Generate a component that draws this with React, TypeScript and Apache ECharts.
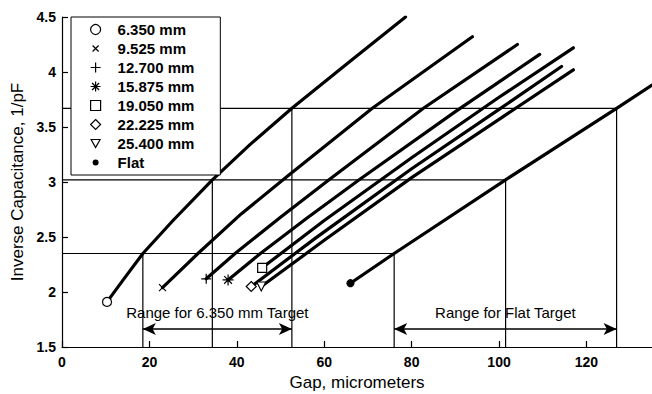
import React, { useEffect, useRef } from "react";
import * as echarts from "echarts";

const seriesNames = ["6.350 mm", "9.525 mm", "12.700 mm", "15.875 mm", "19.050 mm", "22.225 mm", "25.400 mm", "Flat"];

const gap635 = [10.3, 14, 18.5, 25.4, 34.4, 43, 52.6, 66, 78.6];
const inv635 = [1.91, 2.11, 2.35, 2.65, 3.02, 3.34, 3.67, 4.1, 4.5];
const gap953 = [23, 31.1, 41, 51.5, 71, 93.9];
const inv953 = [2.04, 2.35, 2.71, 3.05, 3.67, 4.32];
const gap1270 = [33, 39.6, 50, 61.4, 82.7, 104.2];
const inv1270 = [2.12, 2.35, 2.68, 3.03, 3.67, 4.25];
const gap1588 = [38, 45.4, 56, 68, 90, 109.3];
const inv1588 = [2.11, 2.35, 2.67, 3.02, 3.64, 4.16];
const gap1905 = [45.8, 60, 80, 100, 117];
const inv1905 = [2.22, 2.65, 3.22, 3.77, 4.22];
const gap2223 = [43.3, 58, 80, 100, 114.3];
const inv2223 = [2.05, 2.49, 3.12, 3.66, 4.05];
const gap2540 = [45.6, 60, 80, 100, 117];
const inv2540 = [2.05, 2.47, 3.04, 3.57, 4.02];
const gapFlat = [66, 76, 101.5, 126.9, 135];
const invFlat = [2.08, 2.35, 3.02, 3.67, 3.88];

// guide levels (inverse capacitance) and the gaps where each target hits them
const guideLevels = [2.35, 3.02, 3.67];
const flatRangeGaps = [76, 101.5, 126.9];
const target635Gaps = [18.5, 34.4, 52.6];
const arrowLevel = 1.664;
const rangeLabels = ["Range for 6.350 mm Target", "Range for Flat Target"];

const xTicks = { min: 0, max: 135, interval: 20 };
const yTicks = { min: 1.5, max: 4.5, interval: 0.5 };

const FONT = "Liberation Sans";

const symX = "path://M0,0L10,10M10,0L0,10";
const symPlus = "path://M5,0L5,10M0,5L10,5";
const symStar = "path://M5,0L5,10M0,5L10,5M1.5,1.5L8.5,8.5M8.5,1.5L1.5,8.5";
const symTri = "path://M0,0L10,0L5,9Z";

// legend icons padded with invisible corner points so they draw smaller
const legX = "path://M0,0L0,0M10,10L10,10M2,2L8,8M8,2L2,8";
const legDot = "path://M0,0L0,0M10,10L10,10M8,5A3,3,0,1,1,2,5A3,3,0,1,1,8,5Z";
const legTri = "path://M0,0L0,0M10,10L10,10M0.5,1L9.5,1L5,9Z";

const markers = ["circle", symX, symPlus, symStar, "rect", "diamond", symTri, "circle"];
const markerSizes = [9, 7, 10, 11, 9, 10, 9, 7];

const gaps = [gap635, gap953, gap1270, gap1588, gap1905, gap2223, gap2540, gapFlat];
const invs = [inv635, inv953, inv1270, inv1588, inv1905, inv2223, inv2540, invFlat];

export default function App() {
  const ref = useRef<HTMLDivElement>(null);
  useEffect(() => {
    if (!ref.current) return;
    document.body.style.margin = "0";
    document.documentElement.style.overflow = "hidden";
    const chart = echarts.init(ref.current, null, { renderer: "svg" });

    const curveSeries: any[] = seriesNames.map((name, si) => {
      const isFlat = name === "Flat";
      return {
        name,
        type: "line",
        symbol: markers[si],
        symbolSize: markerSizes[si],
        z: 5,
        lineStyle: { color: "#000", width: 3.2, cap: "round", join: "round" },
        itemStyle: {
          color: isFlat ? "#000" : "#fff",
          borderColor: "#000",
          borderWidth: 1.2,
        },
        emphasis: { disabled: true },
        data: gaps[si].map((g, i) =>
          i === 0 ? { value: [g, invs[si][i]] } : { value: [g, invs[si][i]], symbol: "none" }
        ),
      };
    });

    const guideStyle = { color: "#000", width: 1.2 };
    const guideSeries: any[] = [];
    guideLevels.forEach((lvl, i) => {
      guideSeries.push({
        type: "line",
        symbol: "none",
        silent: true,
        z: 2,
        lineStyle: guideStyle,
        data: [
          [xTicks.min, lvl],
          [flatRangeGaps[i], lvl],
          [flatRangeGaps[i], yTicks.min],
        ],
      });
      guideSeries.push({
        type: "line",
        symbol: "none",
        silent: true,
        z: 2,
        lineStyle: guideStyle,
        data: [
          [target635Gaps[i], lvl],
          [target635Gaps[i], yTicks.min],
        ],
      });
    });

    const arrowSeries = {
      type: "line",
      symbol: "none",
      silent: true,
      data: [],
      markLine: {
        silent: true,
        symbol: ["arrow", "arrow"],
        symbolSize: [9, 13],
        lineStyle: { color: "#000", width: 1.6, type: "solid" },
        label: {
          show: true,
          position: "insideMiddleTop",
          distance: 9,
          color: "#000",
          fontFamily: FONT,
          fontSize: 15,
          fontWeight: "normal",
        },
        data: [
          [
            { coord: [target635Gaps[0], arrowLevel], name: rangeLabels[0], label: { formatter: rangeLabels[0] } },
            { coord: [target635Gaps[2], arrowLevel] },
          ],
          [
            { coord: [flatRangeGaps[0], arrowLevel], name: rangeLabels[1], label: { formatter: rangeLabels[1] } },
            { coord: [flatRangeGaps[2], arrowLevel] },
          ],
        ],
      },
    };

    const legendIcons = ["circle", legX, symPlus, symStar, "rect", "diamond", legTri, legDot];

    chart.setOption({
      animation: false,
      backgroundColor: "#fff",
      grid: { left: 62, right: 0, top: 17, bottom: 47, containLabel: false, outerBoundsMode: "none" },
      legend: {
        left: 71,
        top: 17,
        orient: "vertical",
        backgroundColor: "#fff",
        borderColor: "#000",
        borderWidth: 1,
        padding: [5, 26, 5, 19],
        itemWidth: 10,
        itemHeight: 10,
        itemGap: 4,
        selectedMode: false,
        z: 10,
        textStyle: {
          color: "#000",
          fontFamily: FONT,
          fontSize: 15,
          fontWeight: "bold",
          lineHeight: 15,
          padding: [0, 0, 0, 12],
        },
        data: seriesNames.map((n, i) => ({
          name: n,
          icon: legendIcons[i],
          itemStyle:
            n === "Flat"
              ? { color: "#000", borderColor: "#000", borderWidth: 0 }
              : { color: "#fff", borderColor: "#000", borderWidth: 1.2 },
        })),
      },
      xAxis: {
        type: "value",
        min: xTicks.min,
        max: xTicks.max,
        interval: xTicks.interval,
        name: "Gap, micrometers",
        nameLocation: "middle",
        nameGap: 27,
        nameTextStyle: { color: "#000", fontFamily: FONT, fontSize: 17 },
        axisLine: { show: true, lineStyle: { color: "#000", width: 1.2 } },
        axisTick: { show: true, inside: true, length: 6, lineStyle: { color: "#000", width: 1.2 } },
        axisLabel: {
          color: "#000",
          fontFamily: FONT,
          fontSize: 14,
          fontWeight: "bold",
          margin: 8,
          showMaxLabel: false,
          formatter: (v: number) => (v % xTicks.interval === 0 ? String(v) : ""),
        },
        splitLine: { show: false },
      },
      yAxis: {
        type: "value",
        min: yTicks.min,
        max: yTicks.max,
        interval: yTicks.interval,
        name: "Inverse Capacitance, 1/pF",
        nameLocation: "middle",
        nameGap: 34,
        nameRotate: 90,
        nameTextStyle: { color: "#000", fontFamily: FONT, fontSize: 17 },
        axisLine: { show: true, lineStyle: { color: "#000", width: 1.2 } },
        axisTick: { show: true, inside: true, length: 6, lineStyle: { color: "#000", width: 1.2 } },
        axisLabel: {
          color: "#000",
          fontFamily: FONT,
          fontSize: 14,
          fontWeight: "bold",
          margin: 6,
          formatter: (v: number) => String(v),
        },
        splitLine: { show: false },
      },
      series: [...guideSeries, arrowSeries, ...curveSeries],
    });

    return () => chart.dispose();
  }, []);

  return (
    <div
      ref={ref}
      style={{ position: "fixed", left: 0, top: 0, width: 652, height: 394, background: "#fff" }}
    />
  );
}
